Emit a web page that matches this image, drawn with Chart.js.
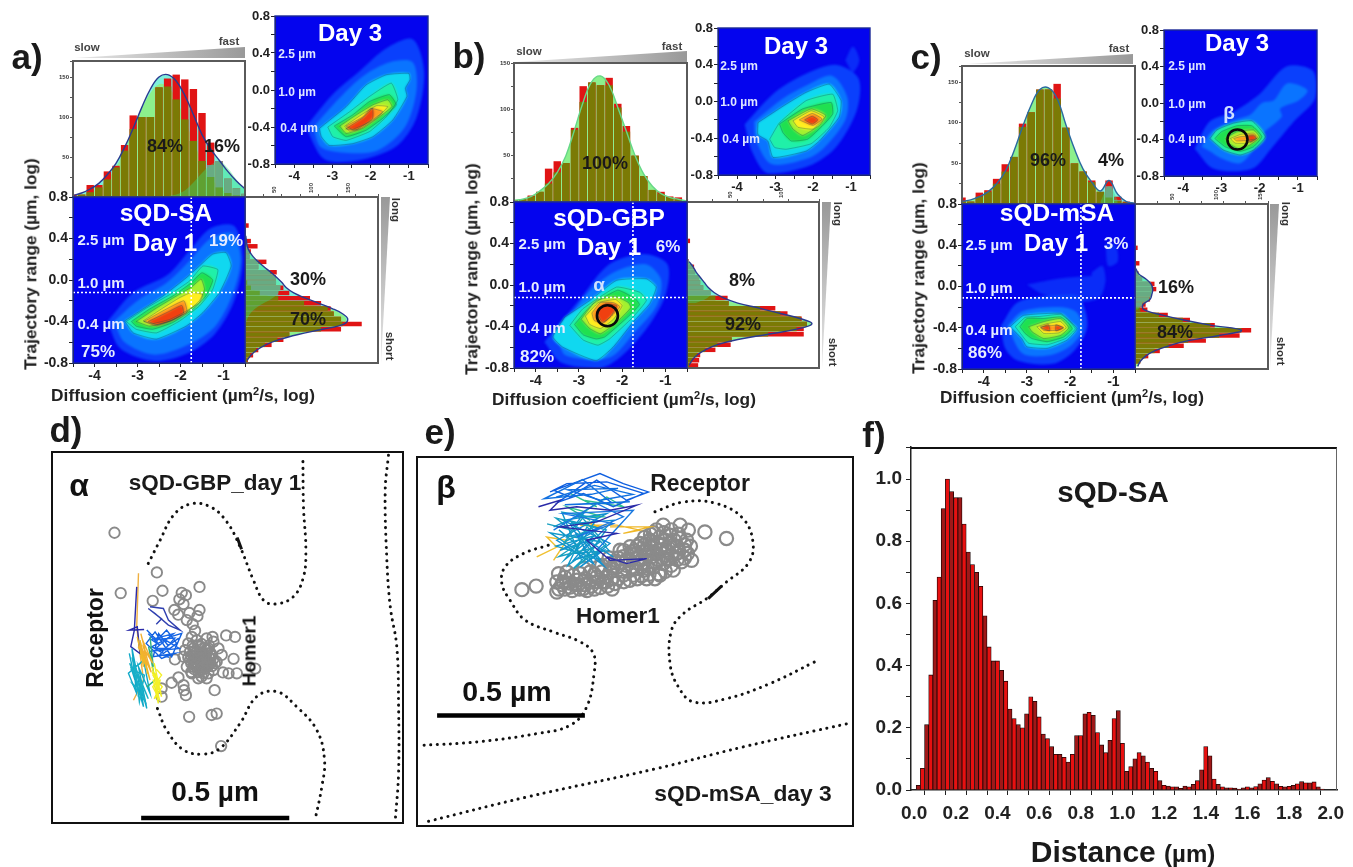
<!DOCTYPE html>
<html>
<head>
<meta charset="utf-8">
<title>sQD diffusion panels</title>
<script src="https://cdn.jsdelivr.net/npm/chart.js@4"></script>
<style>
  html, body { margin: 0; background: #fff; }
  #page { position: relative; width: 1353px; height: 867px; overflow: hidden; font-family: "Liberation Sans", Arial, sans-serif; }
  #page canvas { position: absolute; }
  .heat { position: absolute; overflow: hidden; background: #0404ee; }
  .heat canvas { filter: blur(1.3px); left: 0; top: 0; }
  .txt { position: absolute; white-space: nowrap; font-weight: bold; transform: translate(-50%, -50%); line-height: 1; }
  .wedge { position: absolute; }
</style>
</head>
<body>
<div id="page"></div>
<script>
// ---- data ----

// histogram bin centres
const topBins = [-4.5,-4.3,-4.1,-3.9,-3.7,-3.5,-3.3,-3.1,-2.9,-2.7,-2.5,-2.3,-2.1,-1.9,-1.7,-1.5,-1.3,-1.1,-0.9,-0.7,-0.5];
const rightBins = [.775,.725,.675,.625,.575,.525,.475,.425,.375,.325,.275,.225,.175,.125,.075,.025,-.025,-.075,-.125,-.175,-.225,-.275,-.325,-.375,-.425,-.475,-.525,-.575,-.625,-.675,-.725,-.775];

// a) top
const aTopBars = [3,3,15,15,32,39,65,102,100,100,137,148,153,147,135,105,68,45,23,11,4];
const aTopFit = [2,5,10,17,28,42,62,86,112,135,150,153,145,127,103,78,60,46,32,20,10];
const aTopMain = [1,3,6,12,22,37,58,85,110,130,141,138,122,97,70,45,25,12,5,2,1];
const aTopSecond = [0,0,0,0,0,0,0,0,0,0,0,1,3,8,18,30,40,45,36,22,10];
// a) right
const aRightBars = [0,0,0,0,0,5,0,0,8,17,8,6,29,18,43,42,42,52,60,88,103,116,120,130,158,130,60,52,36,18,11,4];
const aRightFit = [0,0,0,0,0,0,0,1,2,3,6,11,18,26,35,43,50,56,66,82,100,118,132,139,134,105,72,46,28,16,8,3];
const aRightMain = [0,0,0,0,0,0,0,0,0,0,0,0,0,0,0,1,3,8,20,45,80,112,130,137,132,103,70,44,27,15,7,3];
const aRightSecond = [0,0,0,0,0,0,0,0,1,3,6,11,18,26,34,42,47,48,45,37,25,14,7,3,1,0,0,0,0,0,0,0];

// b) top
const bTopBars = [2,3,7,11,36,44,42,80,125,129,126,134,106,82,50,28,13,11,6,5,0];
const bTopFit = [2,3,6,12,20,32,50,78,108,130,136,126,102,76,50,30,17,9,5,3,1];
// b) right
const bRightBars = [0,0,0,0,0,0,0,3,0,0,0,2,7,8,12,13,16,23,40,41,87,99,113,118,115,115,44,43,28,13,12,11];
const bRightFit = [0,0,0,0,0,0,0,0,0,0,0,2,6,9,13,17,21,27,36,50,72,92,112,123,108,80,50,30,18,10,5,2];
const bRightMain = [0,0,0,0,0,0,0,0,0,0,0,0,0,0,0,0,0,0,28,48,72,92,112,123,108,80,50,30,18,10,5,2];
const bRightSecond = [0,0,0,0,0,0,0,0,0,0,0,2,6,9,13,17,21,24,20,8,0,0,0,0,0,0,0,0,0,0,0,0];

// c) top
const cTopBars = [8,3,14,17,31,49,58,99,113,141,141,148,94,50,40,29,15,29,9,3,0];
const cTopFit = [3,5,9,15,25,40,65,95,122,141,143,130,98,68,43,27,16,29,12,3,1];
const cTopMain = [3,5,9,15,25,40,65,95,122,141,143,130,98,68,43,27,15,8,4,2,1];
const cTopSecond = [0,0,0,0,0,0,0,0,0,0,0,0,0,0,0,0,3,22,5,0,0];
// c) right
const cRightBars = [0,0,0,0,0,0,0,0,3,0,0,5,0,4,8,22,24,18,17,12,14,37,62,90,131,118,80,55,28,15,6,0];
const cRightFit = [0,0,0,0,0,0,0,0,0,0,0,0,1,4,12,18,20,19,17,9,10,30,55,85,120,95,60,38,22,12,6,3];
const cRightMain = [0,0,0,0,0,0,0,0,0,0,0,0,0,0,0,0,0,0,0,0,6,27,54,85,120,95,60,38,22,12,6,3];
const cRightSecond = [0,0,0,0,0,0,0,0,0,0,0,0,1,4,12,18,20,19,16,8,3,0,0,0,0,0,0,0,0,0,0,0];

// contour levels, outer to inner: index into levelColors
const levelColors = ['#0a2cf8','#0a40fc','#0a74ff','#10d8f0','#20f0a8','#20e050','#a4f030','#ffee20','#ff9a20','#f04010'];

const a1Levels = [1,2,3,4,5,6,7,8,9];
const a1Contours = [
  [[-3.7,-.4],[-3.1,-.12],[-2.3,.05],[-1.8,.28],[-1.3,.5],[-.75,.52],[-.55,.2],[-.75,-.2],[-1.2,-.52],[-1.8,-.7],[-2.6,-.78],[-3.4,-.66]],
  [[-3.55,-.4],[-3,-.2],[-2.3,-.02],[-1.8,.18],[-1.3,.4],[-.8,.45],[-.6,.2],[-.8,-.15],[-1.2,-.45],[-1.8,-.62],[-2.6,-.72],[-3.3,-.6]],
  [[-3.3,-.395],[-2.95,-.3],[-2.41,-.155],[-1.87,.02],[-1.56,.135],[-1.25,.25],[-.94,.265],[-.82,.135],[-1.09,-.12],[-1.48,-.315],[-1.87,-.445],[-2.56,-.57],[-3.1,-.51]],
  [[-3.26,-.4],[-2.79,-.27],[-2.25,-.14],[-1.79,-.01],[-1.48,.135],[-1.13,.1],[-1.25,-.09],[-1.56,-.25],[-2.02,-.395],[-2.56,-.51],[-3.03,-.475]],
  [[-3.14,-.4],[-2.72,-.28],[-2.18,-.155],[-1.79,-.04],[-1.5,.07],[-1.25,0],[-1.41,-.155],[-1.72,-.285],[-2.18,-.41],[-2.65,-.475],[-3.03,-.445]],
  [[-3.03,-.4],[-2.56,-.27],[-2.1,-.155],[-1.75,-.07],[-1.52,.01],[-1.44,-.09],[-1.56,-.2],[-1.87,-.315],[-2.25,-.395],[-2.72,-.445]],
  [[-2.87,-.395],[-2.41,-.27],[-2.02,-.17],[-1.75,-.12],[-1.48,-.14],[-1.56,-.22],[-1.87,-.3],[-2.25,-.38],[-2.65,-.42]],
  [[-2.85,-.4],[-2.33,-.28],[-1.92,-.2],[-1.85,-.31],[-2.18,-.385],[-2.56,-.44]],
  [[-2.75,-.4],[-2.3,-.31],[-1.97,-.245],[-1.93,-.32],[-2.2,-.39],[-2.55,-.43]]
];
const a3Levels = [1,2,3,4,5,6,7,8,9];
const a3Contours = [
  [[-3.7,-.4],[-3,-.05],[-2.3,.2],[-1.6,.45],[-.9,.55],[-.6,.2],[-.8,-.3],[-1.3,-.6],[-2.2,-.75],[-3.2,-.75]],
  [[-3.5,-.4],[-2.8,-.08],[-2.2,.15],[-1.5,.3],[-.9,.3],[-.8,0],[-1.1,-.4],[-1.8,-.65],[-2.6,-.68],[-3.3,-.62]],
  [[-3.34,-.415],[-2.64,-.18],[-2.12,.055],[-1.59,.165],[-1,.18],[-.97,.11],[-1.09,.02],[-1.05,-.07],[-1.42,-.325],[-1.94,-.505],[-2.47,-.58],[-3.08,-.6],[-3.29,-.505]],
  [[-3.12,-.4],[-2.55,-.235],[-2.03,-.07],[-1.46,.075],[-1.29,-.105],[-1.59,-.29],[-2.03,-.45],[-2.64,-.545],[-2.99,-.505]],
  [[-2.95,-.39],[-2.47,-.27],[-2.03,-.125],[-1.51,-.05],[-1.33,-.16],[-1.68,-.305],[-2.12,-.435],[-2.64,-.505]],
  [[-2.81,-.39],[-2.38,-.27],[-1.94,-.16],[-1.55,-.105],[-1.44,-.18],[-1.77,-.29],[-2.2,-.415],[-2.64,-.47]],
  [[-2.68,-.39],[-2.25,-.27],[-1.85,-.17],[-1.55,-.18],[-1.85,-.305],[-2.25,-.415],[-2.55,-.445]],
  [[-2.64,-.39],[-2.2,-.29],[-1.99,-.2],[-1.68,-.235],[-2.03,-.345],[-2.47,-.425]],
  [[-2.65,-.42],[-2.2,-.3],[-1.95,-.2],[-1.95,-.31],[-2.38,-.43]]
];
const b1Levels = [1,2,3,4,5,6,7,8,9];
const b1Contours = [
  [[-3.8,-.55],[-3,-.15],[-2.3,.2],[-1.5,.3],[-.95,.2],[-1,-.1],[-1.4,-.4],[-2,-.68],[-2.5,-.8],[-3.4,-.75]],
  [[-3.5,-.5],[-2.85,-.1],[-2.2,.12],[-1.45,.2],[-1.1,.05],[-1.2,-.2],[-1.7,-.45],[-2.3,-.7],[-3.3,-.68]],
  [[-3.33,-.31],[-2.75,-.15],[-2.13,.045],[-1.44,.06],[-1.21,-.02],[-1.36,-.18],[-1.75,-.36],[-2.21,-.6],[-2.6,-.73],[-3.37,-.6],[-3.6,-.5]],
  [[-3.21,-.39],[-2.91,-.23],[-2.13,-.02],[-1.59,-.07],[-1.44,-.15],[-1.75,-.31],[-2.29,-.52],[-2.56,-.58],[-2.9,-.53]],
  [[-3.1,-.38],[-2.7,-.19],[-2.1,-.05],[-1.7,-.13],[-1.6,-.19],[-1.9,-.32],[-2.4,-.5],[-2.6,-.52],[-2.9,-.48]],
  [[-2.95,-.33],[-2.6,-.15],[-2.15,-.11],[-1.85,-.17],[-1.8,-.22],[-2.15,-.37],[-2.5,-.47],[-2.75,-.42]],
  [[-2.85,-.3],[-2.55,-.17],[-2.15,-.14],[-2,-.2],[-2.2,-.33],[-2.5,-.42],[-2.75,-.38]],
  [[-2.7,-.27],[-2.5,-.17],[-2.2,-.17],[-2.05,-.21],[-2.25,-.3],[-2.45,-.37],[-2.65,-.34]],
  [[-2.6,-.26],[-2.38,-.18],[-2.12,-.2],[-2.28,-.31],[-2.45,-.36]]
];
const b3Levels = [0,1,2,3,4,5,6,7,8,9];
const b3Contours = [
  [[-1.15,.45],[-.95,.6],[-.78,.45],[-.95,.32]],
  [[-3.8,-.25],[-3,.1],[-2.2,.3],[-1.4,.4],[-.8,.25],[-.85,-.1],[-1.4,-.5],[-2.1,-.7],[-3.2,-.78],[-3.6,-.55]],
  [[-3.55,-.22],[-2.8,.03],[-2.15,.18],[-1.5,.28],[-1.1,.05],[-1.15,-.2],[-1.7,-.5],[-2.15,-.62],[-3.1,-.68],[-3.5,-.42]],
  [[-3.45,-.23],[-2.71,-.03],[-2.18,.1],[-1.57,.19],[-1.26,.01],[-1.31,-.17],[-1.83,-.43],[-2.18,-.54],[-3.05,-.61],[-3.19,-.43],[-3.45,-.36]],
  [[-3.14,-.41],[-2.88,-.23],[-2.18,.01],[-1.48,.08],[-1.35,-.1],[-1.57,-.28],[-2.05,-.46],[-2.71,-.52],[-3.01,-.5]],
  [[-2.88,-.245],[-2.27,-.08],[-1.52,-.01],[-1.48,-.135],[-1.74,-.26],[-2.14,-.41],[-2.57,-.43],[-2.79,-.34]],
  [[-2.66,-.21],[-2.05,-.08],[-1.66,-.15],[-1.83,-.26],[-2.27,-.37],[-2.53,-.3]],
  [[-2.53,-.21],[-2.05,-.1],[-1.7,-.17],[-2,-.3],[-2.4,-.28]],
  [[-2.36,-.2],[-2.02,-.13],[-1.76,-.19],[-2,-.26]],
  [[-2.22,-.2],[-2.02,-.16],[-1.87,-.2],[-2.02,-.245]]
];
const c1Levels = [0,0,0,1,2,3,4,5,6,7,8,9,9];
const c1Contours = [
  [[-3,.02],[-2.2,.08],[-1.6,.1],[-1.2,.1],[-1.3,-.1],[-1.7,-.15],[-2.6,-.08]],
  [[-1.18,.42],[-.95,.4],[-.9,.24],[-1.12,.2]],
  [[-1.5,.14],[-1.25,.2],[-1.2,.02],[-1.5,-.06]],
  [[-3.6,-.38],[-3.2,-.15],[-2.2,-.08],[-1.8,-.1],[-1.6,-.38],[-1.9,-.62],[-2.4,-.75],[-3.2,-.72],[-3.5,-.6]],
  [[-3.45,-.38],[-3.1,-.24],[-2.2,-.2],[-1.85,-.25],[-1.72,-.42],[-2,-.58],[-2.5,-.67],[-3.1,-.65]],
  [[-3.39,-.39],[-3.08,-.28],[-2.22,-.26],[-1.99,-.34],[-1.84,-.41],[-2.07,-.52],[-2.53,-.6],[-3,-.585],[-3.12,-.505]],
  [[-3.27,-.39],[-3.04,-.3],[-2.69,-.29],[-2.22,-.27],[-2.03,-.33],[-1.88,-.41],[-2.11,-.505],[-2.53,-.565],[-2.96,-.55],[-3.12,-.47]],
  [[-3.16,-.39],[-3,-.31],[-2.61,-.31],[-2.22,-.295],[-2.07,-.34],[-1.95,-.41],[-2.15,-.49],[-2.53,-.535],[-2.88,-.505],[-3.04,-.455]],
  [[-2.96,-.39],[-2.61,-.34],[-2.22,-.31],[-2.03,-.4],[-2.22,-.475],[-2.61,-.505],[-2.88,-.44]],
  [[-2.77,-.39],[-2.53,-.36],[-2.22,-.34],[-2.09,-.4],[-2.26,-.45],[-2.61,-.455]],
  [[-2.69,-.39],[-2.3,-.375],[-2.16,-.4],[-2.3,-.425],[-2.61,-.425]],
  [[-2.68,-.4],[-2.5,-.37],[-2.47,-.43]],
  [[-2.33,-.37],[-2.15,-.4],[-2.33,-.43]]
];
const c3Levels = [1,2,4,5,6,7,8,9];
const c3Contours = [
  [[-3.7,-.5],[-3.3,-.2],[-2.7,-.1],[-2,.1],[-1.3,.4],[-.6,.35],[-.55,.05],[-1.1,-.2],[-1.7,-.5],[-2.2,-.72],[-3.2,-.72]],
  [[-3.52,-.48],[-3.25,-.31],[-2.68,-.19],[-2.25,-.13],[-1.94,0],[-1.63,.03],[-1.28,.215],[-.75,.14],[-.97,.03],[-1.46,-.06],[-1.42,-.15],[-1.9,-.33],[-2.16,-.515],[-2.51,-.66],[-3.04,-.6],[-3.3,-.53]],
  [[-3.3,-.39],[-3.12,-.295],[-2.68,-.22],[-2.2,-.195],[-1.85,-.37],[-2.16,-.515],[-2.51,-.57],[-2.95,-.515]],
  [[-3.17,-.39],[-3,-.315],[-2.6,-.25],[-2.2,-.25],[-1.94,-.37],[-2.16,-.48],[-2.51,-.53],[-2.9,-.48]],
  [[-2.9,-.39],[-2.6,-.315],[-2.16,-.295],[-2,-.375],[-2.25,-.46],[-2.55,-.5],[-2.82,-.44]],
  [[-2.77,-.39],[-2.51,-.345],[-2.16,-.33],[-2.05,-.38],[-2.33,-.44],[-2.64,-.44]],
  [[-2.68,-.39],[-2.51,-.37],[-2.16,-.36],[-2.09,-.39],[-2.33,-.41],[-2.6,-.415]],
  [[-2.33,-.35],[-2.14,-.35],[-2.08,-.39],[-2.25,-.43]]
];

// d) positions in nm
const dHomer = [[211,981],[354,847],[232,777],[373,785],[340,751],[498,798],[438,778],[452,770],[430,756],[444,740],[413,720],[426,704],[464,710],[498,720],[491,699],[455,686],[475,672],[483,650],[588,634],[618,629],[542,629],[613,555],[686,522],[624,506],[596,506],[577,509],[549,449],[463,359],[539,365],[556,370],[571,260],[404,474],[427,492],[444,466],[452,432],[446,449],[415,553],[370,455],[370,427],[460,607],[489,618],[522,624],[545,613],[562,590],[573,568],[556,545],[545,517],[522,489],[494,489],[472,506],[455,528],[444,562],[449,584],[477,590],[500,596],[528,590],[539,568],[522,551],[500,562],[483,562],[466,551],[477,528],[500,517],[517,522],[534,539],[511,573],[494,539],[511,539],[489,579],[506,551],[517,562],[494,556],[506,573],[522,573],[483,545],[511,506],[528,506],[466,579],[472,629],[505,530],[490,525],[515,545],[500,545],[530,560],[485,575],[470,565],[495,600],[515,590],[480,540],[490,560],[510,560],[525,545],[535,555],[525,530],[505,520],[490,535],[480,555],[470,540],[515,530],[500,575],[520,585],[535,575],[480,520],[495,510],[510,525],[545,555],[550,540],[460,560],[475,600],[505,605],[530,600],[470,510],[505,495],[540,530]];
const dMembrane1 = [[325,877],[365,956],[410,1040],[466,1078],[534,1069],[590,1018],[635,933],[680,821],[714,753],[753,740],[815,765],[849,832],[857,922],[849,1069],[847,1226]];
const dMembrane2 = [[356,387],[387,314],[444,247],[511,233],[567,252],[635,337],[691,427],[759,444],[826,393],[894,314],[920,213],[911,123],[888,10]];
const dMembrane3 = [[1136,1243],[1125,1125],[1130,900],[1142,731],[1164,596],[1170,393],[1170,168],[1159,10]];
const dThick = [[625,965],[640,925]];
const dScaleBar = [[301,17],[801,17]];
const dTracks = [
  ['#f0b040',[[292,844],[286,663],[297,573],[309,483],[275,415]]],
  ['#2a2aa8',[[286,798],[278,652],[266,596],[297,573],[288,663],[261,652],[311,654]]],
  ['#3040b0',[[331,731],[376,725],[393,686],[432,652],[393,669],[348,708],[325,725],[370,690],[352,672]]],
  ['#1060e0',[[320,652],[354,618],[387,652],[421,607],[376,573],[337,596],[399,629],[438,641],[404,562],[348,646],[318,607],[370,556],[415,573],[342,562],[360,640],[392,600],[428,625]]],
  ['#1868e8',[[325,640],[365,600],[335,620],[410,640],[350,590],[400,590],[330,580],[430,590],[380,620],[345,620],[415,625],[365,570],[395,560]]],
  ['#10a8c8',[[261,573],[280,483],[266,528],[297,438],[275,506],[309,393],[297,472],[320,387],[292,528],[331,438],[309,551],[258,506],[285,440],[270,590],[305,415]]],
  ['#18b0c8',[[270,560],[285,500],[262,540],[300,450],[272,470],[315,410],[290,500],[325,420],[305,470],[280,530],[295,410],[312,500],[268,520],[300,540]]],
  ['#30b080',[[331,629],[342,528],[326,596],[348,483],[320,460]]],
  ['#f0f020',[[337,528],[370,427],[348,506],[359,404],[342,483],[365,483],[354,438],[345,420],[372,460],[340,500]]],
  ['#f4f028',[[345,540],[360,470],[338,510],[368,440],[350,470],[362,420],[340,460],[370,500],[352,520]]],
  ['#f0b828',[[288,629],[309,528],[297,618],[331,483],[303,573],[329,528],[291,596],[316,560],[322,505]]],
  ['#f2b030',[[300,640],[320,560],[295,600],[335,510],[310,590],[340,540],[305,620]]]
];

// e) positions in nm
const eHomer = [[355,798],[403,810],[473,790],[974,993],[1047,971],[833,1016],[890,1016],[918,999],[929,897],[867,864],[822,847],[777,835],[670,819],[698,847],[563,802],[479,852],[495,824],[518,807],[541,830],[586,824],[608,841],[631,824],[653,858],[507,858],[552,852],[586,858],[625,858],[676,875],[709,880],[743,869],[721,897],[766,886],[800,875],[833,886],[698,909],[743,920],[777,931],[811,920],[844,931],[878,920],[906,931],[788,965],[822,976],[856,982],[890,971],[867,948],[828,948],[794,909],[755,954],[721,943],[912,965],[766,863],[732,847],[473,824],[529,847],[569,835],[614,875],[653,886],[687,931],[895,892],[844,903],[817,852],[500,840],[535,815],[600,850],[640,840],[660,870],[690,890],[730,915],[760,900],[790,940],[815,900],[855,955],[880,945],[850,900],[800,990],[770,975],[735,930],[710,900],[650,905],[625,880],[565,870],[480,800],[500,800],[525,795],[550,800],[575,795],[600,800],[620,805],[645,810],[660,800],[490,815],[515,820],[545,815],[565,815],[590,810],[610,825],[640,825],[660,835],[680,835],[700,825],[720,830],[745,835],[760,845],[785,850],[805,835],[840,860],[860,880],[880,900],[905,905],[915,920],[925,945],[700,860],[730,865],[760,875],[780,870],[810,890],[830,905],[860,915],[885,925],[905,950],[885,985],[860,1000],[835,990],[810,1000],[790,985],[770,950],[745,945],[725,925],[700,930],[680,905],[670,890],[750,905],[780,915],[800,925],[825,930],[850,940],[870,965],[840,965],[815,955],[795,960],[770,930]];
const eMembrane1 = [[444,948],[360,920],[298,875],[287,819],[315,762],[366,695],[462,655],[552,622],[597,582],[599,515],[574,402],[518,340],[406,312],[203,284],[11,272]];
const eMembrane2 = [[805,1061],[901,1094],[1013,1089],[1103,1038],[1137,954],[1120,886],[1047,824],[980,768],[901,717],[861,661],[856,548],[884,470],[935,419],[1047,430],[1194,481],[1345,554]];
const eMembrane3 = [[39,16],[372,98],[811,194],[1103,267],[1458,346]];
const eThick = [[985,768],[1030,810]];
const eScaleBar = [[68,373],[568,373]];
const eTracks = [
  ['#f0c030',[[405,909],[473,942],[439,976],[507,965],[462,897]]],
  ['#f0b828',[[653,1010],[788,1010],[698,988],[754,999],[676,1016],[552,1016],[619,1010],[574,1027]]],
  ['#30c090',[[518,1123],[608,1078],[563,1100],[698,1078],[642,1111],[540,1044],[631,1044],[507,1078],[586,1032]]],
  ['#1090d0',[[462,1010],[563,1055],[507,976],[608,999],[484,931],[586,965],[529,897],[631,931],[552,875],[653,954],[495,1032],[642,1055],[473,965],[597,886],[518,1021],[664,1032],[563,931],[631,880],[540,988],[664,909]]],
  ['#1098c8',[[480,1000],[540,950],[500,900],[600,980],[470,945],[620,900],[520,1030],[640,1000],[560,890],[490,1060],[610,1040],[530,920],[650,930],[575,1010],[510,880],[620,960],[450,990],[590,900]]],
  ['#18a0c0',[[440,1020],[520,1000],[470,1040],[600,1010],[500,960],[560,1040],[640,950],[530,870],[600,940],[480,910],[570,970]]],
  ['#1060e0',[[450,1128],[619,1190],[698,1156],[783,1128],[709,1100],[608,1168],[518,1111],[462,1134],[507,1156],[642,1162],[766,1123],[664,1078],[563,1123],[479,1094],[574,1162]]],
  ['#1070e0',[[470,1110],[600,1150],[730,1120],[620,1100],[510,1135],[680,1140],[590,1120],[430,1105],[560,1170],[660,1090],[500,1085],[720,1095]]],
  ['#1878e0',[[462,999],[608,1089],[698,1044],[540,976],[664,1021],[495,1055],[732,1066],[608,931]]],
  ['#2a2aa8',[[411,1078],[484,1100],[450,1066],[540,1078],[653,1066],[743,1083],[608,1027],[484,1010],[574,999],[676,988],[574,965],[653,897],[777,903],[709,886],[642,909]]]
];

// f) distance histogram
const fBins = [.02,.04,.06,.08,.10,.12,.14,.16,.18,.20,.22,.24,.26,.28,.30,.32,.34,.36,.38,.40,.42,.44,.46,.48,.50,.52,.54,.56,.58,.60,.62,.64,.66,.68,.70,.72,.74,.76,.78,.80,.82,.84,.86,.88,.90,.92,.94,.96,.98,1.00,1.02,1.04,1.06,1.08,1.10,1.12,1.14,1.16,1.18,1.20,1.22,1.24,1.26,1.28,1.30,1.32,1.34,1.36,1.38,1.40,1.42,1.44,1.46,1.48,1.50,1.52,1.54,1.56,1.58,1.60,1.62,1.64,1.66,1.68,1.70,1.72,1.74,1.76,1.78,1.80,1.82,1.84,1.86,1.88,1.90,1.92,1.94,1.96];
const fValues = [.015,.07,.21,.37,.61,.685,.905,1.0,.96,.94,.94,.855,.765,.725,.70,.655,.56,.46,.415,.415,.385,.35,.26,.23,.21,.20,.245,.30,.285,.235,.18,.165,.14,.115,.115,.105,.09,.115,.175,.175,.245,.25,.24,.185,.145,.12,.16,.23,.255,.15,.06,.075,.10,.12,.11,.09,.07,.06,.03,.015,.013,.01,.01,.005,.013,.01,.018,.03,.065,.14,.11,.035,.018,.01,.007,.007,.006,.003,.007,.01,.007,.011,.02,.032,.04,.028,.02,.012,.01,.012,.015,.02,.027,.023,.023,.026,.01,.003];

// ---- helpers ----
const page = document.getElementById('page');
const P = 46; // room kept around each plot for its axis
const xy = a => a.map(p => ({x: p[0], y: p[1]}));
const closed = a => xy(a.concat([a[0]]));
const under = (a, b) => a.map((v, i) => Math.min(v, b[i]));

Chart.defaults.font.family = '"Liberation Sans", Arial, sans-serif';
Chart.defaults.font.weight = 'bold';
Chart.defaults.color = '#222';

const framePlugin = {
  id: 'frame',
  afterDatasetsDraw(chart, args, opts) {
    if (!opts.color) return;
    const a = chart.chartArea, c = chart.ctx;
    c.save();
    c.strokeStyle = opts.color;
    c.lineWidth = opts.width || 1;
    c.strokeRect(a.left, a.top, a.right - a.left, a.bottom - a.top);
    c.restore();
  }
};
Chart.register(framePlugin);

// canvas placed so that the plot area lands exactly on box [left, top, right, bottom]
function plot(box, xScale, yScale, datasets, frame, type) {
  const [l, t, r, b] = box;
  const cv = document.createElement('canvas');
  cv.width = r - l + 2 * P;
  cv.height = b - t + 2 * P;
  cv.style.left = (l - P) + 'px';
  cv.style.top = (t - P) + 'px';
  page.appendChild(cv);
  const xHidden = xScale.display === false, yHidden = yScale.display === false;
  const xTop = xScale.position === 'top';
  if (!xHidden) xScale.afterFit = s => { s.height = P; };
  if (!yHidden) yScale.afterFit = s => { s.width = P; };
  xScale.offset = false;
  yScale.offset = false;
  const horizontal = xScale.indexY;
  delete xScale.indexY;
  datasets.forEach((d, i) => { d.order = datasets.length - i; });
  return new Chart(cv, {
    type: type || 'scatter',
    data: {datasets},
    options: {
      responsive: false,
      animation: false,
      events: [],
      indexAxis: horizontal ? 'y' : 'x',
      layout: {padding: {
        left: yHidden ? P : 0,
        right: P,
        top: xTop ? 0 : P,
        bottom: xTop || xHidden ? P : 0
      }},
      scales: {x: xScale, y: yScale},
      plugins: {legend: {display: false}, tooltip: {enabled: false}, frame: frame || {}}
    }
  });
}

const diffTicks = v => Number.isInteger(v) ? String(v) : '';
const rangeTicks = v => Math.abs(Math.round(v * 10)) % 4 === 0 ? v.toFixed(1) : '';
const countTicks = v => v > 0 && v % 50 === 0 ? String(v) : '';
const evenTenths = v => Math.round(v * 10) % 2 === 0 ? v.toFixed(1) : '';

function mainX(size) {
  return {type: 'linear', min: -4.5, max: -0.5, grid: {drawOnChartArea: false, tickLength: 4, color: '#222'}, border: {color: '#222'},
    ticks: {stepSize: .5, autoSkip: false, maxRotation: 0, padding: 1, font: {size: size}, callback: diffTicks}};
}
function mainY(size) {
  return {type: 'linear', min: -.8, max: .8, grid: {drawOnChartArea: false, tickLength: 4, color: '#222'}, border: {color: '#222'},
    ticks: {stepSize: .2, autoSkip: false, padding: 1, font: {size: size}, callback: rangeTicks}};
}

// contour map: a blurred colour layer below, axes and thin lines above
function heat(box, contours, levels, fontSize, dotX, dotY, ring) {
  const [l, t, r, b] = box;
  const holder = document.createElement('div');
  holder.className = 'heat';
  holder.style.cssText = `left:${l}px;top:${t}px;width:${r - l}px;height:${b - t}px`;
  page.appendChild(holder);
  const cv = document.createElement('canvas');
  cv.width = r - l;
  cv.height = b - t;
  holder.appendChild(cv);
  new Chart(cv, {
    type: 'scatter',
    data: {datasets: contours.map((c, i) => ({
      data: closed(c), showLine: true, fill: 'shape', tension: .3, pointRadius: 0, borderWidth: 0,
      backgroundColor: levelColors[levels[i]], order: contours.length - i
    }))},
    options: {responsive: false, animation: false, events: [],
      scales: {x: {display: false, min: -4.5, max: -.5}, y: {display: false, min: -.8, max: .8}},
      plugins: {legend: {display: false}, tooltip: {enabled: false}}}
  });
  const lines = contours.filter((c, i) => levels[i] >= 3).map(c => ({
    data: closed(c), showLine: true, tension: .12, pointRadius: 0, borderWidth: .7, borderColor: 'rgba(15,70,80,.45)', fill: false
  }));
  if (dotX !== null) {
    lines.push({data: [{x: dotX, y: -.8}, {x: dotX, y: .8}], showLine: true, pointRadius: 0, borderColor: '#fff', borderWidth: 1.6, borderDash: [2, 2]});
    lines.push({data: [{x: -4.5, y: dotY}, {x: -.5, y: dotY}], showLine: true, pointRadius: 0, borderColor: '#fff', borderWidth: 1.6, borderDash: [2, 2]});
  }
  if (ring) {
    lines.push({data: [{x: ring[0], y: ring[1]}], pointRadius: ring[2], pointBorderColor: '#0a0a0a', pointBorderWidth: 2.6, pointBackgroundColor: 'transparent'});
  }
  plot(box, mainX(fontSize), mainY(fontSize), lines, {color: '#1c2a96', width: 1.4});
}

function histSets(bins, bars, fit, main, second, horiz, fillColor, lineColor) {
  const pts = vals => bins.map((p, i) => horiz ? {x: vals[i], y: p} : {x: p, y: vals[i]});
  const curve = vals => pts(vals).filter(q => (horiz ? q.x : q.y) > 0);
  const line = {type: 'line', pointRadius: 0, tension: .4};
  const bar = {type: 'bar', grouped: false, barPercentage: .86, categoryPercentage: 1};
  const sets = [
    {...line, data: curve(fit), fill: 'origin', backgroundColor: second ? '#7ff0dc' : fillColor, borderWidth: 0},
    {...line, data: curve(main || fit), fill: 'origin', backgroundColor: fillColor, borderWidth: 0},
    {...bar, data: pts(bars), backgroundColor: '#e01414'}
  ];
  if (second) sets.push({...bar, data: pts(under(bars, second)), backgroundColor: '#8a8a8a'});
  sets.push({...bar, data: pts(under(bars, main || fit)), backgroundColor: '#7b7a05'});
  if (second) sets.push({...line, data: curve(second), fill: 'origin', backgroundColor: 'rgba(50,225,120,.38)', borderWidth: 0});
  sets.push({...line, data: curve(fit), borderColor: lineColor, borderWidth: 1.4, fill: false});
  return sets;
}

function topHist(box, yMax, bars, fit, main, second, lineColor) {
  const x = {display: false, type: 'linear', min: -4.5, max: -.5};
  const y = {type: 'linear', min: 0, max: yMax, grid: {drawOnChartArea: false, tickLength: 3, color: '#555'}, border: {display: false},
    ticks: {stepSize: 25, autoSkip: false, padding: 1, font: {size: 6}, color: '#333', callback: countTicks}};
  plot(box, x, y, histSets(topBins, bars, fit, main, second, false, '#8cf08c', lineColor), {color: '#5a5a5a', width: 2}, 'bar');
}

function rightHist(box, xMax, bars, fit, main, second, lineColor) {
  const x = {position: 'top', indexY: true, type: 'linear', min: 0, max: xMax, grid: {drawOnChartArea: false, tickLength: 3, color: '#555'}, border: {display: false},
    ticks: {stepSize: 25, autoSkip: false, minRotation: 90, maxRotation: 90, padding: 1, font: {size: 6}, color: '#333', callback: countTicks}};
  const y = {display: false, type: 'linear', min: -.8, max: .8};
  plot(box, x, y, histSets(rightBins, bars, fit, main, second, true, '#8cf08c', lineColor), {color: '#5a5a5a', width: 2}, 'bar');
}

function wedge(l, t, w, h, clip, dir) {
  const d = document.createElement('div');
  d.className = 'wedge';
  d.style.cssText = `left:${l}px;top:${t}px;width:${w}px;height:${h}px;clip-path:polygon(${clip});background:linear-gradient(${dir},#e8e8e8,#999)`;
  page.appendChild(d);
}

function txt(s, x, y, size, color, rot) {
  const d = document.createElement('div');
  d.className = 'txt';
  d.innerHTML = s;
  d.style.cssText = `left:${x}px;top:${y}px;font-size:${size}px;color:${color || '#1a1a1a'};` + (rot ? `transform:translate(-50%,-50%) rotate(${rot}deg)` : '');
  page.appendChild(d);
}

// hidden-axis panel for the d) and e) localisation maps
function mapPanel(box, xMax, yMax, homer, radius, ringWidth, tracks, membranes, thick, bar) {
  const sets = [{data: xy(homer), pointRadius: radius, pointBorderColor: '#8a8a8a', pointBorderWidth: ringWidth, pointBackgroundColor: 'transparent'}];
  tracks.forEach(t => sets.push({data: xy(t[1]), showLine: true, pointRadius: 0, borderColor: t[0], borderWidth: 1.4}));
  membranes.forEach(m => sets.push({data: xy(m), showLine: true, tension: .4, pointRadius: 0, borderColor: '#111', borderWidth: 3, borderDash: [.1, 6.5], borderCapStyle: 'round'}));
  thick.forEach(m => sets.push({data: xy(m), showLine: true, pointRadius: 0, borderColor: '#111', borderWidth: 3}));
  sets.push({data: xy(bar), showLine: true, pointRadius: 0, borderColor: '#000', borderWidth: 4.5});
  plot(box, {display: false, type: 'linear', min: 0, max: xMax}, {display: false, type: 'linear', min: 0, max: yMax}, sets, {color: '#111', width: 2});
}

// ---- panels ----
const TICK = 14, TICK3 = 13;

// a)
wedge(75, 47, 170, 11, '0 100%,100% 0,100% 100%', 'to right');
topHist([73, 61, 245, 197], 170, aTopBars, aTopFit, aTopMain, aTopSecond, '#2a3a90');
rightHist([245, 197, 378, 363], 180, aRightBars, aRightFit, aRightMain, aRightSecond, '#2a3a90');
wedge(381, 197, 9, 166, '0 0,100% 0,0 100%', 'to top');
heat([73, 197, 245, 363], a1Contours, a1Levels, TICK, -1.75, -.12);
heat([275, 16, 428, 164], a3Contours, a3Levels, TICK3, null, null);

// b)
wedge(516, 51, 171, 11, '0 100%,100% 0,100% 100%', 'to right');
topHist([514, 63, 687, 202], 150, bTopBars, bTopFit, null, null, '#66d888');
rightHist([687, 202, 819, 368], 130, bRightBars, bRightFit, bRightMain, bRightSecond, '#2a3a90');
wedge(822, 202, 9, 166, '0 0,100% 0,0 100%', 'to top');
heat([514, 202, 687, 368], b1Contours, b1Levels, TICK, -1.75, -.12, [-2.34, -.296, 10.5]);
heat([718, 28, 870, 175], b3Contours, b3Levels, TICK3, null, null);

// c)
wedge(966, 54, 167, 10, '0 100%,100% 0,100% 100%', 'to right');
topHist([962, 66, 1135, 204], 170, cTopBars, cTopFit, cTopMain, cTopSecond, '#2a6aa0');
rightHist([1135, 204, 1268, 369], 150, cRightBars, cRightFit, cRightMain, cRightSecond, '#2a3a90');
wedge(1270, 204, 9, 165, '0 0,100% 0,0 100%', 'to top');
heat([962, 204, 1135, 369], c1Contours, c1Levels, TICK, -1.75, -.11);
heat([1164, 30, 1317, 176], c3Contours, c3Levels, TICK3, null, null, [-2.58, -.4, 10]);

// d) and e)
mapPanel([52, 452, 403, 823], 1185, 1254, dHomer, 5.2, 1.9, dTracks, [dMembrane1, dMembrane2, dMembrane3], [dThick], dScaleBar);
mapPanel([417, 457, 853, 826], 1475, 1246, eHomer, 6.6, 2.2, eTracks, [eMembrane1, eMembrane2, eMembrane3], [eThick], eScaleBar);

// f)
plot([911, 447, 1337, 790],
  {type: 'linear', min: -.015, max: 2.03, grid: {drawOnChartArea: false, tickLength: 5, color: '#222'}, border: {color: '#222', width: 1.5},
    ticks: {stepSize: .1, includeBounds: false, autoSkip: false, maxRotation: 0, padding: 7, font: {size: 19}, callback: evenTenths}},
  {type: 'linear', min: 0, max: 1.103, grid: {drawOnChartArea: false, tickLength: 5, color: '#222'}, border: {color: '#222', width: 1.5},
    ticks: {stepSize: .1, includeBounds: false, autoSkip: false, padding: 4, font: {size: 19}, callback: evenTenths}},
  [{type: 'bar', data: fBins.map((b, i) => ({x: b, y: fValues[i]})), barPercentage: 1, categoryPercentage: 1,
    backgroundColor: fBins.map((b, i) => i % 2 ? '#e81010' : '#a01818'), borderColor: '#1a0505', borderWidth: .8}],
  {}, 'bar');

// top and right edges of f), drawn as in the source
const fEdges = document.createElement('div');
fEdges.style.cssText = 'position:absolute;left:911px;top:447px;width:426px;height:343px;border-top:2px solid #111;border-right:1px solid #666;box-sizing:border-box';
page.appendChild(fEdges);

// ---- text ----
const PANEL = 35, AXIS = 17.3, SUP = '<sup style="font-size:11px;line-height:0">2</sup>';
txt('a)', 27, 56, PANEL);
txt('b)', 469, 55, PANEL);
txt('c)', 926, 56, PANEL);
txt('d)', 66, 429, PANEL);
txt('e)', 440, 431, PANEL);
txt('f)', 874, 434, PANEL);

// a)
txt('slow', 87, 48, 11.5, '#444'); txt('fast', 229, 42, 11.5, '#444');
txt('84%', 165, 146, 18); txt('16%', 222, 146, 18);
txt('Day 3', 350, 33, 24, '#fff');
txt('2.5 µm', 297, 54, 12, '#dfe6ff'); txt('1.0 µm', 297, 92, 12, '#dfe6ff'); txt('0.4 µm', 299, 128, 12, '#dfe6ff');
txt('sQD-SA', 166, 213, 24.5, '#fff'); txt('Day 1', 165, 243, 24, '#fff'); txt('19%', 226, 240, 17, '#e6ecff');
txt('2.5 µm', 101, 239, 15, '#e6ecff'); txt('1.0 µm', 101, 282, 15, '#e6ecff'); txt('0.4 µm', 101, 323, 15, '#e6ecff');
txt('75%', 98, 351, 17, '#e6ecff');
txt('30%', 308, 279, 18); txt('70%', 308, 319, 18);
txt('long', 395, 210, 11.5, '#333', 90); txt('short', 389, 346, 11.5, '#333', 90);
txt('Trajectory range (µm, log)', 31, 264, AXIS, '#222', -90);
txt('Diffusion coefficient (µm' + SUP + '/s, log)', 183, 396, AXIS, '#222');

// b)
txt('slow', 529, 52, 11.5, '#444'); txt('fast', 672, 47, 11.5, '#444');
txt('100%', 605, 163, 18);
txt('Day 3', 796, 46, 24, '#fff');
txt('2.5 µm', 739, 66, 12, '#dfe6ff'); txt('1.0 µm', 739, 102, 12, '#dfe6ff'); txt('0.4 µm', 741, 139, 12, '#dfe6ff');
txt('sQD-GBP', 609, 218, 24.5, '#fff'); txt('Day 1', 609, 247, 24, '#fff'); txt('6%', 668, 246, 17, '#e6ecff');
txt('2.5 µm', 542, 243, 15, '#e6ecff'); txt('1.0 µm', 542, 286, 15, '#e6ecff'); txt('0.4 µm', 542, 327, 15, '#e6ecff');
txt('82%', 537, 356, 17, '#e6ecff'); txt('α', 599, 284, 19, '#cfe0ff');
txt('8%', 742, 280, 18); txt('92%', 743, 324, 18);
txt('long', 837, 214, 11.5, '#333', 90); txt('short', 832, 352, 11.5, '#333', 90);
txt('Trajectory range (µm, log)', 472, 269, AXIS, '#222', -90);
txt('Diffusion coefficient (µm' + SUP + '/s, log)', 624, 400, AXIS, '#222');

// c)
txt('slow', 977, 54, 11.5, '#444'); txt('fast', 1119, 49, 11.5, '#444');
txt('96%', 1048, 160, 18); txt('4%', 1111, 160, 18);
txt('Day 3', 1237, 43, 24, '#fff');
txt('2.5 µm', 1187, 66, 12, '#dfe6ff'); txt('1.0 µm', 1187, 104, 12, '#dfe6ff'); txt('0.4 µm', 1187, 139, 12, '#dfe6ff');
txt('β', 1229, 112, 19, '#cfe0ff');
txt('sQD-mSA', 1057, 213, 24.5, '#fff'); txt('Day 1', 1056, 243, 24, '#fff'); txt('3%', 1116, 243, 17, '#e6ecff');
txt('2.5 µm', 989, 244, 15, '#e6ecff'); txt('1.0 µm', 989, 287, 15, '#e6ecff'); txt('0.4 µm', 989, 329, 15, '#e6ecff');
txt('86%', 985, 352, 17, '#e6ecff');
txt('16%', 1176, 287, 18); txt('84%', 1175, 332, 18);
txt('long', 1285, 214, 11.5, '#333', 90); txt('short', 1280, 351, 11.5, '#333', 90);
txt('Trajectory range (µm, log)', 919, 268, AXIS, '#222', -90);
txt('Diffusion coefficient (µm' + SUP + '/s, log)', 1072, 398, AXIS, '#222');

// d)
txt('α', 79, 485, 32, '#111');
txt('sQD-GBP_day 1', 215, 483, 22.5);
txt('Receptor', 95, 638, 23, '#111', -90);
txt('Homer1', 249, 651, 19, '#111', -90);
txt('0.5 µm', 215, 792, 28, '#111');

// e)
txt('β', 446, 487, 32, '#111');
txt('Receptor', 700, 483, 23);
txt('Homer1', 618, 616, 22.5);
txt('0.5 µm', 507, 691, 28.5, '#111');
txt('sQD-mSA_day 3', 743, 793, 22.8);

// f)
txt('sQD-SA', 1113, 492, 29.5);
txt('Distance <span style="font-size:24px">(µm)</span>', 1123, 852, 30);
</script>
</body>
</html>
